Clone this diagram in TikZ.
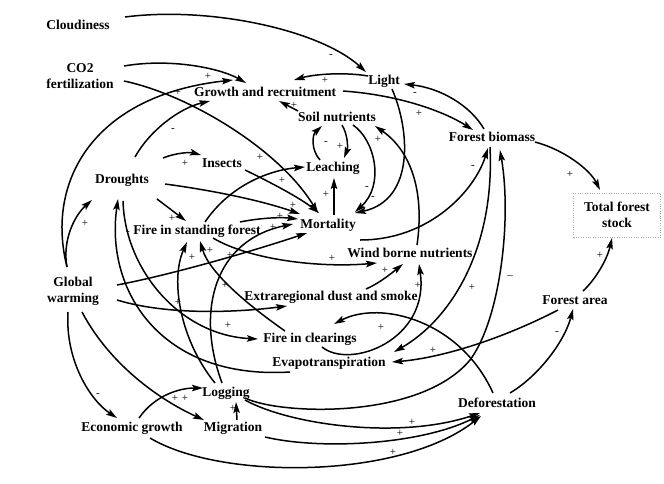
\documentclass[tikz,border=0pt]{standalone}
\usepackage{fontspec}
\setmainfont{Liberation Serif}
\usetikzlibrary{arrows.meta,calc}
\begin{document}
\begin{tikzpicture}[x=1pt,y=-1pt,
  lbl/.style={font=\bfseries\fontsize{13.5}{16}\selectfont, inner sep=1pt, align=center},
  sg/.style={font=\fontsize{11}{11}\selectfont, inner sep=0pt},
  ar/.style={line width=1.5pt, -{Stealth[length=11pt,width=6.5pt,inset=2pt]}},
  ln/.style={line width=1.5pt}]
\useasboundingbox (0,0) rectangle (664,483);
% ---------- variables ----------
\node[lbl] (cloud) at (78,25) {Cloudiness};
\node[lbl] (co2) at (80,76) {CO2\\fertilization};
\node[lbl] (growth) at (265,92) {Growth and recruitment};
\node[lbl] (light) at (384,81) {Light};
\node[lbl] (soil) at (337,117) {Soil nutrients};
\node[lbl] (biomass) at (492,137) {Forest biomass};
\node[lbl] (insects) at (222,163) {Insects};
\node[lbl] (leach) at (333,168) {Leaching};
\node[lbl] (drought) at (122,180) {Droughts};
\node[lbl] (fire) at (197,231) {Fire in standing forest};
\node[lbl] (mort) at (328,225) {Mortality};
\node[lbl, draw=gray!70, dotted, thin, minimum width=87pt, minimum height=44pt] (stock) at (617,215) {Total forest\\stock};
\node[lbl] (wind) at (410,253) {Wind borne nutrients};
\node[lbl] (gw) at (73,291) {Global\\warming};
\node[lbl] (dust) at (331,297) {Extraregional dust and smoke};
\node[lbl] (area) at (575,300) {Forest area};
\node[lbl] (fclear) at (310,339) {Fire in clearings};
\node[lbl] (evap) at (329,363) {Evapotranspiration};
\node[lbl] (log) at (226,393) {Logging};
\node[lbl] (defor) at (497,403) {Deforestation};
\node[lbl] (econ) at (132,428) {Economic growth};
\node[lbl] (migr) at (233,428) {Migration};
% ---------- connectors ----------
\draw[ar] ($(cloud)+(47,-8)$) .. controls (210,6) and (320,30) .. ($(light)+(-18,-9)$);
\draw[ar] ($(co2)+(44,-10)$) .. controls (170,58) and (220,68) .. ($(growth)+(-19,-9)$);
\draw[ar] ($(co2)+(44,5)$) .. controls (190,95) and (280,150) .. ($(mort)+(-10,-12)$);
\draw[ar] ($(gw)+(-6,-24)$) .. controls (45,180) and (95,95) .. ($(growth)+(-32,-12)$);
\draw[ar] ($(drought)+(13,-23)$) .. controls (150,130) and (180,108) .. ($(growth)+(-55,9)$);
\draw[ar] ($(light)+(-16,-5)$) .. controls (345,72) and (315,74) .. ($(growth)+(29,-12)$);
\draw[ar] ($(soil)+(-39,-6)$) -- ($(growth)+(14,9)$);
\draw[ar] ($(growth)+(78,-1)$) .. controls (400,95) and (445,112) .. ($(biomass)+(-19,-7)$);
\draw[ar] ($(biomass)+(-8,-8)$) .. controls (470,105) and (440,88) .. ($(light)+(20,3)$);
\draw[ar] ($(soil)+(5,8)$) .. controls (348,135) and (348,148) .. ($(leach)+(11,-10)$);
\draw[ar] ($(leach)+(-13,-8)$) .. controls (311,150) and (312,135) .. ($(soil)+(-15,9)$);
\draw[ar] ($(mort)+(6,-10)$) -- ($(leach)+(1,10)$);
\draw[ar] ($(drought)+(41,-22)$) .. controls (175,153) and (190,152) .. ($(insects)+(-21,-8)$);
\draw[ar] ($(insects)+(23,7)$) .. controls (270,182) and (300,198) .. ($(mort)+(-9,-12)$);
\draw[ar] ($(drought)+(43,4)$) .. controls (210,190) and (260,200) .. ($(mort)+(-28,-11)$);
\draw[ar] ($(drought)+(35,19)$) -- ($(fire)+(-11,-10)$);
\draw[ar] ($(fire)+(43,-9)$) .. controls (260,218) and (280,217) .. ($(mort)+(-30,-6)$);
\draw[ar] ($(fire)+(8,-9)$) .. controls (230,185) and (270,170) .. ($(leach)+(-28,-1)$);
\draw[ar] ($(gw)+(44,-6)$) .. controls (170,275) and (250,252) .. ($(mort)+(-21,8)$);
\draw[ar] ($(gw)+(44,9)$) .. controls (170,316) and (240,312) .. ($(dust)+(-44,9)$);
\draw[ar] ($(gw)+(-6,-24)$) .. controls (62,240) and (75,215) .. ($(drought)+(-30,20)$);
\draw[ar] ($(gw)+(-5,21)$) .. controls (65,360) and (90,400) .. ($(econ)+(-15,-10)$);
\draw[ar] ($(gw)+(9,21)$) .. controls (110,365) and (160,400) .. ($(migr)+(-29,-8)$);
\draw[ar] ($(evap)+(-39,9)$) .. controls (160,380) and (105,290) .. ($(drought)+(-4,19)$);
\draw[ar] ($(drought)+(1,21)$) .. controls (125,270) and (180,335) .. ($(fclear)+(-52,0)$);
\draw[ar] ($(log)+(-11,-10)$) .. controls (180,340) and (170,280) .. ($(fire)+(-10,11)$);
\draw[ar] ($(log)+(-4,-10)$) .. controls (195,310) and (215,240) .. ($(mort)+(-35,-1)$);
\draw[ar] ($(fclear)+(-25,-8)$) .. controls (255,310) and (210,275) .. ($(fire)+(3,10)$);
\draw[ar] ($(fire)+(16,7)$) .. controls (250,260) and (320,268) .. ($(wind)+(-33,10)$);
\draw[ar] ($(dust)+(35,-8)$) .. controls (380,283) and (393,272) .. ($(wind)+(-7,11)$);
\draw[ar] ($(fclear)+(12,8)$) .. controls (350,370) and (430,340) .. ($(wind)+(9,11)$);
\draw[ar] ($(wind)+(7,-8)$) .. controls (425,190) and (410,150) .. ($(soil)+(38,9)$);
\draw[ar] ($(soil)+(16,8)$) .. controls (375,140) and (385,185) .. ($(mort)+(27,-13)$);
\draw[ar] ($(light)+(8,8)$) .. controls (410,130) and (415,200) .. ($(mort)+(27,-12)$);
\draw[ar] ($(mort)+(32,15)$) .. controls (430,240) and (475,190) .. ($(biomass)+(-4,11)$);
\draw[ar] ($(biomass)+(43,5)$) .. controls (565,150) and (590,170) .. ($(stock)+(-17,-25)$);
\draw[ar] ($(area)+(8,-9)$) .. controls (595,280) and (607,260) .. ($(stock)+(-5,23)$);
\draw[ar] ($(defor)+(13,-10)$) .. controls (540,375) and (565,340) .. ($(area)+(-2,9)$);
\draw[ar] ($(area)+(-17,10)$) .. controls (500,340) and (440,358) .. ($(evap)+(63,-1)$);
\draw[ar] ($(defor)+(-4,-10)$) .. controls (460,320) and (380,300) .. ($(fclear)+(24,-15)$);
\draw[ar] ($(biomass)+(-2,10)$) .. controls (495,250) and (450,320) .. ($(evap)+(65,-11)$);
\draw[ar] ($(log)+(19,5)$) .. controls (280,415) and (420,420) .. (470,360) .. controls (500,320) and (512,220) .. ($(biomass)+(8,13)$);
\draw[ar] ($(econ)+(7,-10)$) .. controls (155,395) and (180,388) .. ($(log)+(-23,-5)$);
\draw[ar] ($(migr)+(4,-8)$) -- ($(log)+(10,9)$);
\draw[ar] ($(log)+(19,7)$) .. controls (290,425) and (400,440) .. ($(defor)+(-17,10)$);
\draw[ar] ($(migr)+(32,9)$) .. controls (320,450) and (420,445) .. ($(defor)+(-17,12)$);
\draw[ar] ($(econ)+(18,10)$) .. controls (220,480) and (400,480) .. ($(defor)+(-16,13)$);
% ---------- polarity signs ----------
\node[sg] (s1) at (331,56) {-};
\node[sg] (s2) at (208,76) {+};
\node[sg] (s3) at (178,92) {+};
\node[sg] (s4) at (325,80) {+};
\node[sg] (s5) at (294,105) {+};
\node[sg] (s6) at (415,94) {-};
\node[sg] (s7) at (419,113) {+};
\node[sg] (s8) at (173,130) {-};
\node[sg] (s9) at (185,163) {+};
\node[sg] (s10) at (260,157) {+};
\node[sg] (s11) at (282,180) {+};
\node[sg] (s12) at (326,194) {+};
\node[sg] (s13) at (293,205) {+};
\node[sg] (s14) at (326,143) {-};
\node[sg] (s15) at (340,146) {+};
\node[sg] (s16) at (378,139) {+};
\node[sg] (s17) at (367,188) {-};
\node[sg] (s18) at (373,198) {-};
\node[sg] (s19) at (473,167) {-};
\node[sg] (s20) at (85,223) {+};
\node[sg] (s21) at (172,218) {+};
\node[sg] (s22) at (128,233) {-};
\node[sg] (s23) at (280,216) {+};
\node[sg] (s24) at (273,227) {+};
\node[sg] (s25) at (192,257) {+};
\node[sg] (s26) at (210,250) {+};
\node[sg] (s27) at (230,255) {+};
\node[sg] (s28) at (225,285) {+};
\node[sg] (s29) at (178,302) {+};
\node[sg] (s30) at (332,258) {+};
\node[sg] (s31) at (385,270) {+};
\node[sg] (s32) at (418,285) {+};
\node[sg] (s33) at (228,325) {+};
\node[sg] (s34) at (381,327) {+};
\node[sg] (s35) at (433,350) {+};
\node[sg] (s36) at (472,287) {+};
\node[sg] (s37) at (510,277) {--};
\node[sg] (s38) at (557,333) {-};
\node[sg] (s39) at (570,174) {+};
\node[sg] (s40) at (600,255) {+};
\node[sg] (s41) at (98,395) {-};
\node[sg] (s42) at (175,398) {+};
\node[sg] (s43) at (185,398) {+};
\node[sg] (s44) at (233,408) {+};
\node[sg] (s45) at (412,422) {+};
\node[sg] (s46) at (400,433) {+};
\node[sg] (s47) at (393,452) {+};
\end{tikzpicture}
\end{document}
